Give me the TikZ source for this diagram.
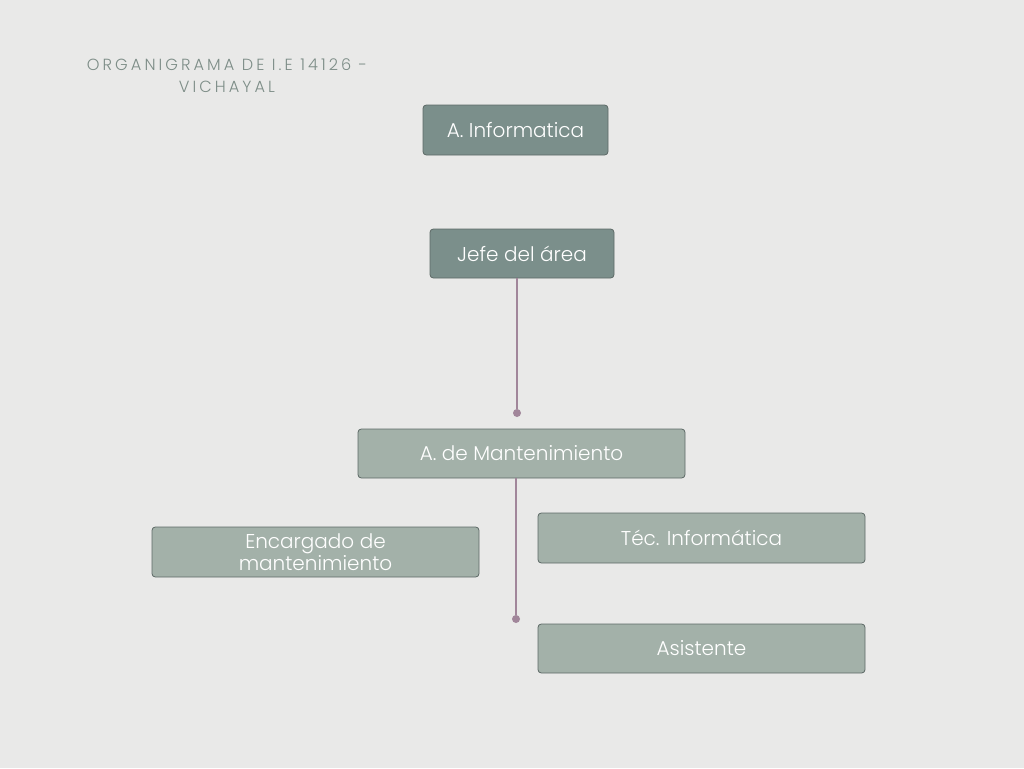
\documentclass[tikz,border=0pt]{standalone}
\usepackage{fontspec}
\setmainfont{Poppins Light}
\newfontfamily\titlefont[LetterSpace=19]{Poppins Light}
\usetikzlibrary{calc}
\definecolor{bg}{HTML}{E9E9E8}
\definecolor{dark}{HTML}{7B8F8B}
\definecolor{light}{HTML}{A3B1A9}
\definecolor{edge}{HTML}{5E6A67}
\definecolor{line}{HTML}{A1869A}
\definecolor{title}{HTML}{7D8D87}
\tikzset{
  box/.style = {draw=edge, line width=.6pt, rounded corners=2.5pt, text=white,
    font=\fontsize{15}{16.5}\selectfont, align=center, inner sep=0pt},
  dot/.style = {circle, fill=line, inner sep=0pt, minimum size=6pt},
  link/.style = {draw=line, line width=1.3pt}
}

\begin{document}
\begin{tikzpicture}[x=.75pt, y=-.75pt]
  \fill[bg] (0,0) rectangle (1024,768);
  \useasboundingbox (0,0) rectangle (1024,768);
  \node[text=title, font=\titlefont\fontsize{12.1}{16.5}\selectfont, align=center] (title) at (227,76)
    {ORGANIGRAMA DE I.E 14126 -\\VICHAYAL};
  \node[box, fill=dark, minimum width=138.75pt, minimum height=37.5pt] (info) at (515.5,130) {A. Informatica};
  \node[box, fill=dark, minimum width=138pt, minimum height=36.75pt] (jefe) at (522,253.5) {Jefe del área};
  \node[box, fill=light, minimum width=245.25pt, minimum height=36.75pt] (mant) at (521.5,453.5) {A. de Mantenimiento};
  \node[box, fill=light, minimum width=245.25pt, minimum height=37.5pt] (enc) at (315.5,552)
    {Encargado de\\mantenimiento};
  \node[box, fill=light, minimum width=245.25pt, minimum height=37.5pt] (tec) at (701.5,538) {Téc. Informática};
  \node[box, fill=light, minimum width=245.25pt, minimum height=36.75pt] (asis) at (701.5,648.5) {Asistente};
  \node[dot] (d1) at (517,413) {};
  \node[dot] (d2) at (516,619) {};
  \draw[link] (jefe.south -| d1) -- (d1);
  \draw[link] (mant.south -| d2) -- (d2);
\end{tikzpicture}
\end{document}
